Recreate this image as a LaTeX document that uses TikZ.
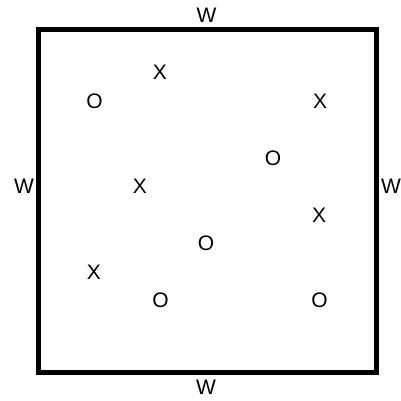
\documentclass[tikz,border=0pt]{standalone}
\usepackage{fontspec}
\setmainfont{Liberation Sans}
\usetikzlibrary{positioning}
\tikzset{
	glyph/.style={inner sep=0pt, font=\fontsize{21}{21}\selectfont},
	wall/.style={line width=5pt, line join=miter}
}

\begin{document}
\begin{tikzpicture}[x=1pt, y=-1pt]
		\useasboundingbox (0,0) rectangle (401,400);
		
		% -- Board ---------------------------------------------------
		\draw[wall] (38.5,29) rectangle (376.5,372);
		
		% -- Wall labels ---------------------------------------------
		\node[glyph] (wtop)    at (206.5,15)  {W};
		\node[glyph] (wbottom) at (206,387)   {W};
		\node[glyph] (wleft)   at (24,186)    {W};
		\node[glyph] (wright)  at (391,186)   {W};
		
		% -- Crosses -------------------------------------------------
		\foreach \nm/\px/\py in {x1/160/72, x2/320/101, x3/140/186, x4/319/215, x5/94/272}{%
			\node[glyph] (\nm) at (\px,\py) {X};
		}
		
		% -- Noughts -------------------------------------------------
		\foreach \nm/\px/\py in {o1/94.5/101, o2/273/158, o3/206/243, o4/160.5/300.5, o5/319.5/300.5}{%
			\node[glyph] (\nm) at (\px,\py) {O};
		}
		
	\end{tikzpicture}
\end{document}
